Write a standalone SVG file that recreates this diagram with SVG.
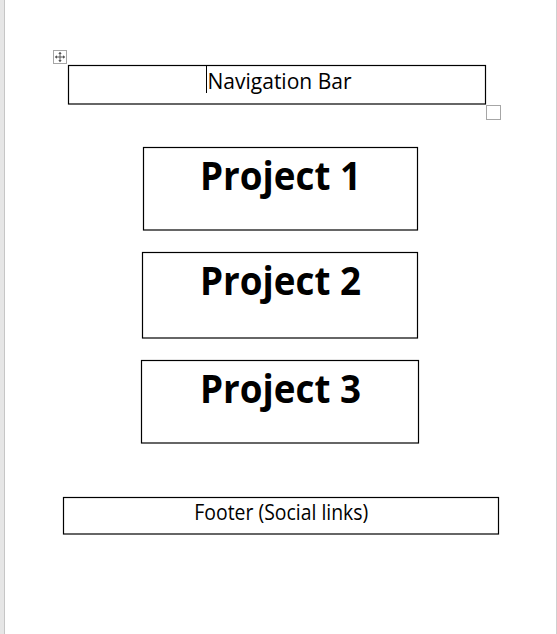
<svg xmlns="http://www.w3.org/2000/svg" width="557" height="634" viewBox="0 0 557 634">
<style>
.box{fill:#ffffff;stroke:#000000;stroke-width:1.2}
.handle{fill:#ffffff;stroke:#a6a6a6;stroke-width:1}
.t{font-family:"Open Sans","Noto Sans","Liberation Sans",sans-serif;fill:#000000}
.big{font-size:39px;font-weight:bold}
.small{font-size:21.5px}
</style>
<rect x="0" y="0" width="557" height="634" fill="#ffffff"/>
<rect x="0" y="0" width="4.5" height="634" fill="#e6e6e6"/>
<line x1="4.5" y1="0" x2="4.5" y2="634" stroke="#c6c6c6" stroke-width="1"/>
<line x1="556.5" y1="0" x2="556.5" y2="634" stroke="#d0d0d0" stroke-width="1"/>
<g id="move-handle">
<rect class="handle" x="53.5" y="50.5" width="13" height="13"/>
<g stroke="#555555" stroke-width="1" fill="none">
<line x1="60" y1="52.5" x2="60" y2="61.5"/>
<line x1="55.5" y1="57" x2="64.5" y2="57"/>
</g>
<g fill="#555555">
<polygon points="60,51.8 58.3,54 61.7,54"/>
<polygon points="60,62.2 58.3,60 61.7,60"/>
<polygon points="54.8,57 57,55.3 57,58.7"/>
<polygon points="65.2,57 63,55.3 63,58.7"/>
</g>
</g>
<g id="nav">
<rect class="box" x="68.5" y="65.5" width="417" height="38.5"/>
<text class="t small" x="207.5" y="88.5" textLength="144" lengthAdjust="spacingAndGlyphs">Navigation Bar</text>
<line x1="206.5" y1="66" x2="206.5" y2="93" stroke="#000000" stroke-width="1"/>
</g>
<g id="resize-handle">
<rect class="handle" x="486.5" y="105.5" width="14" height="14"/>
</g>
<g id="project1">
<rect class="box" x="143.5" y="147.5" width="274" height="82.5"/>
<text class="t big" x="200" y="190" textLength="161" lengthAdjust="spacingAndGlyphs">Project 1</text>
</g>
<g id="project2">
<rect class="box" x="142.5" y="252.5" width="275" height="85.5"/>
<text class="t big" x="200" y="295" textLength="161" lengthAdjust="spacingAndGlyphs">Project 2</text>
</g>
<g id="project3">
<rect class="box" x="141.5" y="360.5" width="277" height="82.5"/>
<text class="t big" x="200" y="402.5" textLength="161" lengthAdjust="spacingAndGlyphs">Project 3</text>
</g>
<g id="footer">
<rect class="box" x="63.5" y="497.5" width="435" height="36.5"/>
<text class="t small" x="194.3" y="519.5" textLength="174" lengthAdjust="spacingAndGlyphs">Footer (Social links)</text>
</g>
<g id="connectors"></g>
</svg>
